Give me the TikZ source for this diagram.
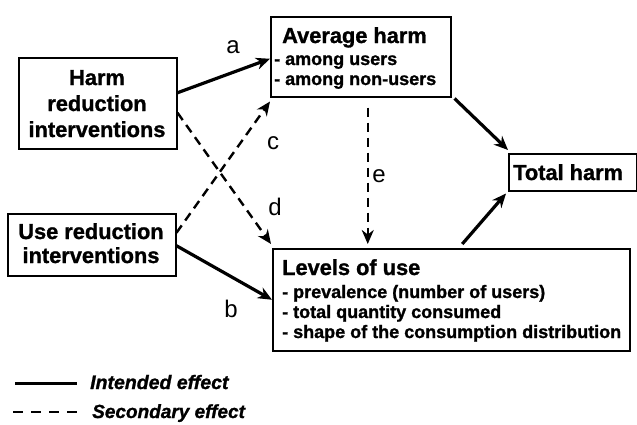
\documentclass[tikz,border=0pt]{standalone}
\usepackage{fontspec}
\setmainfont{Liberation Sans}[BoldFeatures={FakeBold=1.2},BoldItalicFeatures={FakeBold=1.2}]
\usetikzlibrary{arrows.meta}
\tikzset{
  box/.style={draw, line width=1.5pt, inner sep=0pt, anchor=north west},
  hd/.style={font=\fontsize{21.8}{26}\selectfont\bfseries, inner sep=0pt},
  it/.style={font=\fontsize{18}{20}\selectfont\bfseries, inner sep=0pt, anchor=base west},
  lbl/.style={font=\fontsize{24}{24}\selectfont, inner sep=0pt, anchor=base},
  main/.style={line width=3.2pt, -{Stealth[length=14pt,width=12pt,inset=4.5pt]}},
  sec/.style={line width=2.4pt, dash pattern=on 9pt off 6pt, -{Stealth[length=14pt,width=12pt,inset=4.5pt]}},
}
\begin{document}
\begin{tikzpicture}[x=1pt,y=-1pt]
\useasboundingbox (0,0) rectangle (637,424);
% boxes
\node[box, minimum width=158pt, minimum height=91pt] (hr) at (18,57) {};
\node[box, minimum width=168pt, minimum height=62pt] (ur) at (7,213) {};
\node[box, minimum width=180pt, minimum height=80pt] (avg) at (270,16) {};
\node[box, minimum width=128pt, minimum height=37pt] (tot) at (508,153) {};
\node[box, minimum width=357pt, minimum height=102pt] (lev) at (272,248) {};
% texts
\node[hd, anchor=base] (hr1) at (97,85) {Harm};
\node[hd, anchor=base] (hr2) at (97,111) {reduction};
\node[hd, anchor=base] (hr3) at (97,137) {interventions};
\node[hd, anchor=base] (ur1) at (91,239) {Use reduction};
\node[hd, anchor=base] (ur2) at (91,263) {interventions};
\node[hd, anchor=base west] (av1) at (282,43) {Average harm};
\node[it] (av2) at (274,65) {- among users};
\node[it] (av3) at (274,85) {- among non-users};
\node[hd, anchor=base west] (to1) at (513,180) {Total harm};
\node[hd, anchor=base west] (lv1) at (282,275) {Levels of use};
\node[it] (lv2) at (282,298) {- prevalence (number of users)};
\node[it] (lv3) at (282,318) {- total quantity consumed};
\node[it] (lv4) at (282,338) {- shape of the consumption distribution};
% connectors
\draw[main] ([yshift=10.5pt]hr.east) -- ([yshift=-2pt]avg.west);
\draw[main] ([yshift=-1pt]ur.east) -- (lev.west);
\draw[sec] ([yshift=-9.5pt]hr.east) -- ([xshift=-1pt,yshift=4pt]lev.north west);
\draw[sec] ([yshift=12pt]ur.east) -- ([yshift=-4pt]avg.south west);
\draw[sec] ([xshift=7pt,yshift=-10pt]avg.south) -- ([xshift=7pt,yshift=4pt]avg.south |- lev.north);
\draw[main] ([xshift=3pt,yshift=-1pt]avg.south east) -- ([yshift=3pt]tot.north west);
\draw[main] ([xshift=11pt,yshift=4pt]lev.north) -- ([xshift=-2pt,yshift=-2pt]tot.south west);
% labels
\node[lbl] (la) at (233,53) {a};
\node[lbl] (lb) at (231,317) {b};
\node[lbl] (lc) at (273,149) {c};
\node[lbl] (ld) at (275,215) {d};
\node[lbl] (le) at (379,182) {e};
% legend
\coordinate (s1) at (15,383);
\coordinate (s2) at (77,383);
\coordinate (d1) at (13,412);
\coordinate (d2) at (78,412);
\draw[line width=3pt] (s1) -- (s2);
\draw[line width=2.4pt, dash pattern=on 10pt off 8pt] (d1) -- (d2);
\node[font=\fontsize{19.5}{20}\selectfont\bfseries\itshape, inner sep=0pt, anchor=base west] (leg1) at (90,389) {Intended effect};
\node[font=\fontsize{19}{20}\selectfont\bfseries\itshape, inner sep=0pt, anchor=base west] (leg2) at (92,418) {Secondary effect};
\end{tikzpicture}
\end{document}
